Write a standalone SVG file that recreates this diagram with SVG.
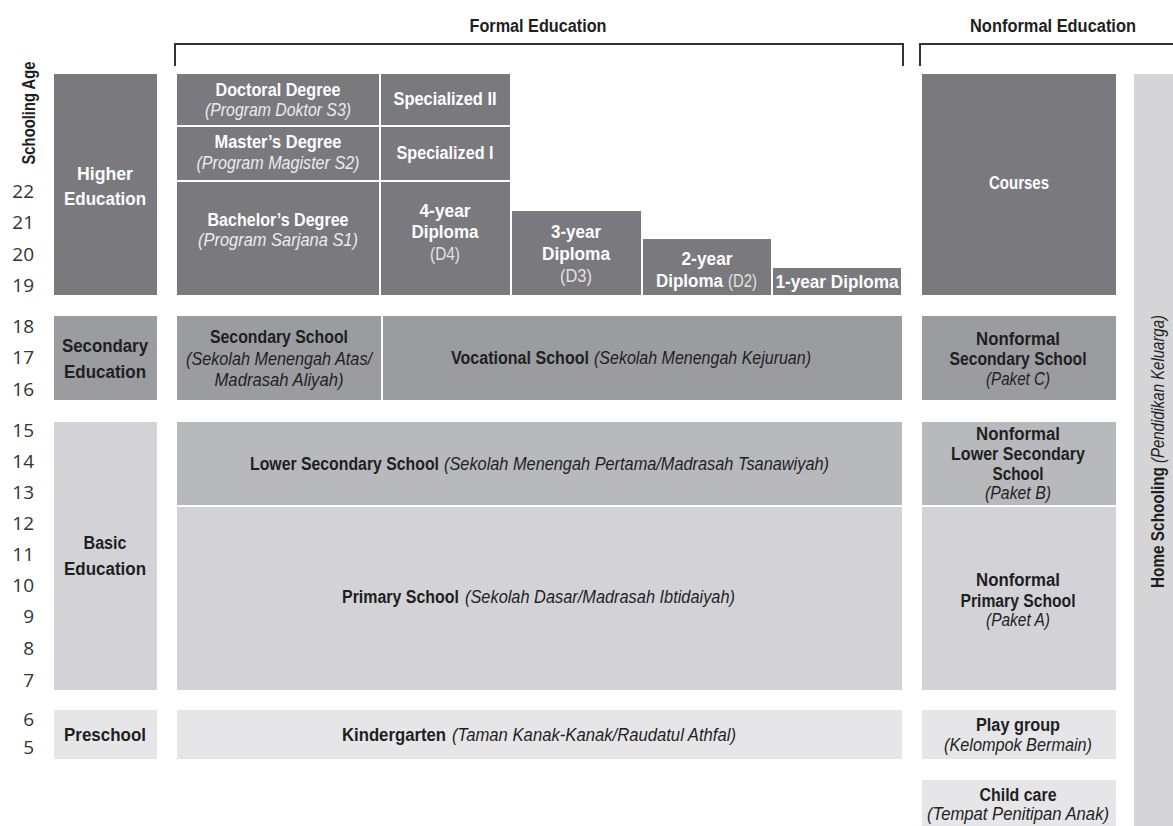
<svg xmlns="http://www.w3.org/2000/svg" width="1173" height="826" viewBox="0 0 1173 826">
<style>
text{font-family:"Liberation Sans","Arimo",sans-serif;font-size:18px;font-weight:bold;text-anchor:middle}
.s{text-anchor:start}
.w{fill:#ffffff}
.k{fill:#1f1f1f}
.i{font-style:italic;font-weight:normal}
.wi{fill:#ececec;font-style:italic;font-weight:normal}
.wr{fill:#e2e2e2;font-weight:normal}
.age{font-family:"Open Sans","Liberation Sans",sans-serif;font-weight:normal;font-size:19px;fill:#333;text-anchor:end}
.d1{fill:#7a797e}
.d2{fill:#9b9ca0}
.d3{fill:#b8b9bd}
.d4{fill:#d3d3d7}
.d5{fill:#e6e6e8}
.br{fill:none;stroke:#333;stroke-width:2}
</style>
<rect width="1173" height="826" fill="#ffffff"/>

<g id="headers">
<text class="k" x="538" y="32" textLength="137" lengthAdjust="spacingAndGlyphs">Formal Education</text>
<text class="k" x="1053" y="32" textLength="166" lengthAdjust="spacingAndGlyphs">Nonformal Education</text>
<text class="k" transform="translate(35,113) rotate(-90)" textLength="103" lengthAdjust="spacingAndGlyphs">Schooling Age</text>
</g>

<g id="connectors">
<path class="br" d="M175,66 V44 H903 V66"/>
<path class="br" d="M920,66 V44 H1173"/>
</g>

<g id="ages">
<text class="age" x="34" y="198">22</text>
<text class="age" x="34" y="229">21</text>
<text class="age" x="34" y="261">20</text>
<text class="age" x="34" y="292">19</text>
<text class="age" x="34" y="333">18</text>
<text class="age" x="34" y="364">17</text>
<text class="age" x="34" y="396">16</text>
<text class="age" x="34" y="437">15</text>
<text class="age" x="34" y="468">14</text>
<text class="age" x="34" y="499">13</text>
<text class="age" x="34" y="530">12</text>
<text class="age" x="34" y="561">11</text>
<text class="age" x="34" y="592">10</text>
<text class="age" x="34" y="623">9</text>
<text class="age" x="34" y="655">8</text>
<text class="age" x="34" y="687">7</text>
<text class="age" x="34" y="726">6</text>
<text class="age" x="34" y="754">5</text>
</g>

<g id="higher-education">
<rect class="d1" x="54" y="74" width="103" height="221"/>
<text class="w" x="105" y="180" textLength="56" lengthAdjust="spacingAndGlyphs">Higher</text>
<text class="w" x="105" y="205" textLength="82" lengthAdjust="spacingAndGlyphs">Education</text>
</g>
<g id="doctoral">
<rect class="d1" x="177" y="74" width="202" height="51"/>
<text class="w" x="278" y="96" textLength="125" lengthAdjust="spacingAndGlyphs">Doctoral Degree</text>
<text class="wi" x="278" y="116" textLength="146" lengthAdjust="spacingAndGlyphs">(Program Doktor S3)</text>
</g>
<g id="specialized-2">
<rect class="d1" x="381" y="74" width="129" height="51"/>
<text class="w" x="445" y="105" textLength="103" lengthAdjust="spacingAndGlyphs">Specialized II</text>
</g>
<g id="masters">
<rect class="d1" x="177" y="127" width="202" height="53"/>
<text class="w" x="278" y="148" textLength="127" lengthAdjust="spacingAndGlyphs">Master’s Degree</text>
<text class="wi" x="278" y="169" textLength="163" lengthAdjust="spacingAndGlyphs">(Program Magister S2)</text>
</g>
<g id="specialized-1">
<rect class="d1" x="381" y="127" width="129" height="53"/>
<text class="w" x="445" y="159" textLength="97" lengthAdjust="spacingAndGlyphs">Specialized I</text>
</g>
<g id="bachelors">
<rect class="d1" x="177" y="182" width="202" height="113"/>
<text class="w" x="278" y="226" textLength="141" lengthAdjust="spacingAndGlyphs">Bachelor’s Degree</text>
<text class="wi" x="278" y="246" textLength="160" lengthAdjust="spacingAndGlyphs">(Program Sarjana  S1)</text>
</g>
<g id="diploma-4">
<rect class="d1" x="381" y="182" width="129" height="113"/>
<text class="w" x="445" y="217" textLength="51" lengthAdjust="spacingAndGlyphs">4-year</text>
<text class="w" x="445" y="238" textLength="67" lengthAdjust="spacingAndGlyphs">Diploma</text>
<text class="wr" x="445" y="260" textLength="30" lengthAdjust="spacingAndGlyphs">(D4)</text>
</g>
<g id="diploma-3">
<rect class="d1" x="512" y="211" width="129" height="84"/>
<text class="w" x="576" y="238" textLength="50" lengthAdjust="spacingAndGlyphs">3-year</text>
<text class="w" x="576" y="260" textLength="68" lengthAdjust="spacingAndGlyphs">Diploma</text>
<text class="wr" x="576" y="282" textLength="32" lengthAdjust="spacingAndGlyphs">(D3)</text>
</g>
<g id="diploma-2">
<rect class="d1" x="643" y="239" width="128" height="56"/>
<text class="w" x="707" y="265" textLength="51" lengthAdjust="spacingAndGlyphs">2-year</text>
<text class="w s" x="656" y="287" textLength="67" lengthAdjust="spacingAndGlyphs">Diploma</text>
<text class="wr s" x="728" y="287" textLength="29" lengthAdjust="spacingAndGlyphs">(D2)</text>
</g>
<g id="diploma-1">
<rect class="d1" x="773" y="268" width="128" height="27"/>
<text class="w" x="837" y="288" textLength="123" lengthAdjust="spacingAndGlyphs">1-year Diploma</text>
</g>
<g id="courses">
<rect class="d1" x="922" y="74" width="194" height="221"/>
<text class="w" x="1019" y="189" textLength="60" lengthAdjust="spacingAndGlyphs">Courses</text>
</g>

<g id="secondary-education">
<rect class="d2" x="54" y="316" width="103" height="84"/>
<text class="k" x="105" y="352" textLength="86" lengthAdjust="spacingAndGlyphs">Secondary</text>
<text class="k" x="105" y="378" textLength="82" lengthAdjust="spacingAndGlyphs">Education</text>
</g>
<g id="secondary-school">
<rect class="d2" x="177" y="316" width="204" height="84"/>
<text class="k" x="279" y="343" textLength="138" lengthAdjust="spacingAndGlyphs">Secondary School</text>
<text class="k i" x="279" y="365" textLength="186" lengthAdjust="spacingAndGlyphs">(Sekolah Menengah Atas/</text>
<text class="k i" x="279" y="386" textLength="129" lengthAdjust="spacingAndGlyphs">Madrasah Aliyah)</text>
</g>
<g id="vocational-school">
<rect class="d2" x="383" y="316" width="519" height="84"/>
<text class="k s" x="451" y="364" textLength="138" lengthAdjust="spacingAndGlyphs">Vocational School</text>
<text class="k i s" x="594" y="364" textLength="217" lengthAdjust="spacingAndGlyphs">(Sekolah Menengah Kejuruan)</text>
</g>
<g id="nonformal-secondary">
<rect class="d2" x="922" y="316" width="194" height="84"/>
<text class="k" x="1018" y="345" textLength="84" lengthAdjust="spacingAndGlyphs">Nonformal</text>
<text class="k" x="1018" y="365" textLength="137" lengthAdjust="spacingAndGlyphs">Secondary School</text>
<text class="k i" x="1018" y="385" textLength="64" lengthAdjust="spacingAndGlyphs">(Paket C)</text>
</g>

<g id="basic-education">
<rect class="d4" x="54" y="422" width="103" height="268"/>
<text class="k" x="105" y="549" textLength="43" lengthAdjust="spacingAndGlyphs">Basic</text>
<text class="k" x="105" y="575" textLength="82" lengthAdjust="spacingAndGlyphs">Education</text>
</g>
<g id="lower-secondary">
<rect class="d3" x="177" y="422" width="725" height="83"/>
<text class="k s" x="250" y="470" textLength="189" lengthAdjust="spacingAndGlyphs">Lower Secondary School</text>
<text class="k i s" x="444" y="470" textLength="385" lengthAdjust="spacingAndGlyphs">(Sekolah Menengah Pertama/Madrasah Tsanawiyah)</text>
</g>
<g id="primary-school">
<rect class="d4" x="177" y="507" width="725" height="183"/>
<text class="k s" x="342" y="603" textLength="117" lengthAdjust="spacingAndGlyphs">Primary School</text>
<text class="k i s" x="465" y="603" textLength="270" lengthAdjust="spacingAndGlyphs">(Sekolah Dasar/Madrasah Ibtidaiyah)</text>
</g>
<g id="nonformal-lower-secondary">
<rect class="d3" x="922" y="422" width="194" height="83"/>
<text class="k" x="1018" y="440" textLength="84" lengthAdjust="spacingAndGlyphs">Nonformal</text>
<text class="k" x="1018" y="460" textLength="134" lengthAdjust="spacingAndGlyphs">Lower Secondary</text>
<text class="k" x="1018" y="480" textLength="51" lengthAdjust="spacingAndGlyphs">School</text>
<text class="k i" x="1018" y="499" textLength="66" lengthAdjust="spacingAndGlyphs">(Paket B)</text>
</g>
<g id="nonformal-primary">
<rect class="d4" x="922" y="507" width="194" height="183"/>
<text class="k" x="1018" y="586" textLength="84" lengthAdjust="spacingAndGlyphs">Nonformal</text>
<text class="k" x="1018" y="607" textLength="115" lengthAdjust="spacingAndGlyphs">Primary School</text>
<text class="k i" x="1018" y="626" textLength="64" lengthAdjust="spacingAndGlyphs">(Paket A)</text>
</g>

<g id="preschool">
<rect class="d5" x="54" y="710" width="103" height="49"/>
<text class="k" x="105" y="741" textLength="82" lengthAdjust="spacingAndGlyphs">Preschool</text>
</g>
<g id="kindergarten">
<rect class="d5" x="177" y="710" width="725" height="49"/>
<text class="k s" x="342" y="741" textLength="104" lengthAdjust="spacingAndGlyphs">Kindergarten</text>
<text class="k i s" x="452" y="741" textLength="284" lengthAdjust="spacingAndGlyphs">(Taman Kanak-Kanak/Raudatul Athfal)</text>
</g>
<g id="play-group">
<rect class="d5" x="922" y="710" width="194" height="49"/>
<text class="k" x="1018" y="731" textLength="84" lengthAdjust="spacingAndGlyphs">Play group</text>
<text class="k i" x="1018" y="751" textLength="148" lengthAdjust="spacingAndGlyphs">(Kelompok Bermain)</text>
</g>
<g id="child-care">
<rect class="d5" x="922" y="780" width="194" height="46"/>
<text class="k" x="1018" y="801" textLength="77" lengthAdjust="spacingAndGlyphs">Child care</text>
<text class="k i" x="1018" y="820" textLength="182" lengthAdjust="spacingAndGlyphs">(Tempat Penitipan Anak)</text>
</g>

<g id="home-schooling">
<rect x="1134" y="74" width="39" height="752" fill="#d5d5d8"/>
<g transform="translate(1164,588) rotate(-90)">
<text class="k s" x="0" y="0" textLength="121" lengthAdjust="spacingAndGlyphs">Home Schooling</text>
<text class="k i s" x="125" y="0" textLength="148" lengthAdjust="spacingAndGlyphs">(Pendidikan Keluarga)</text>
</g>
</g>
</svg>
